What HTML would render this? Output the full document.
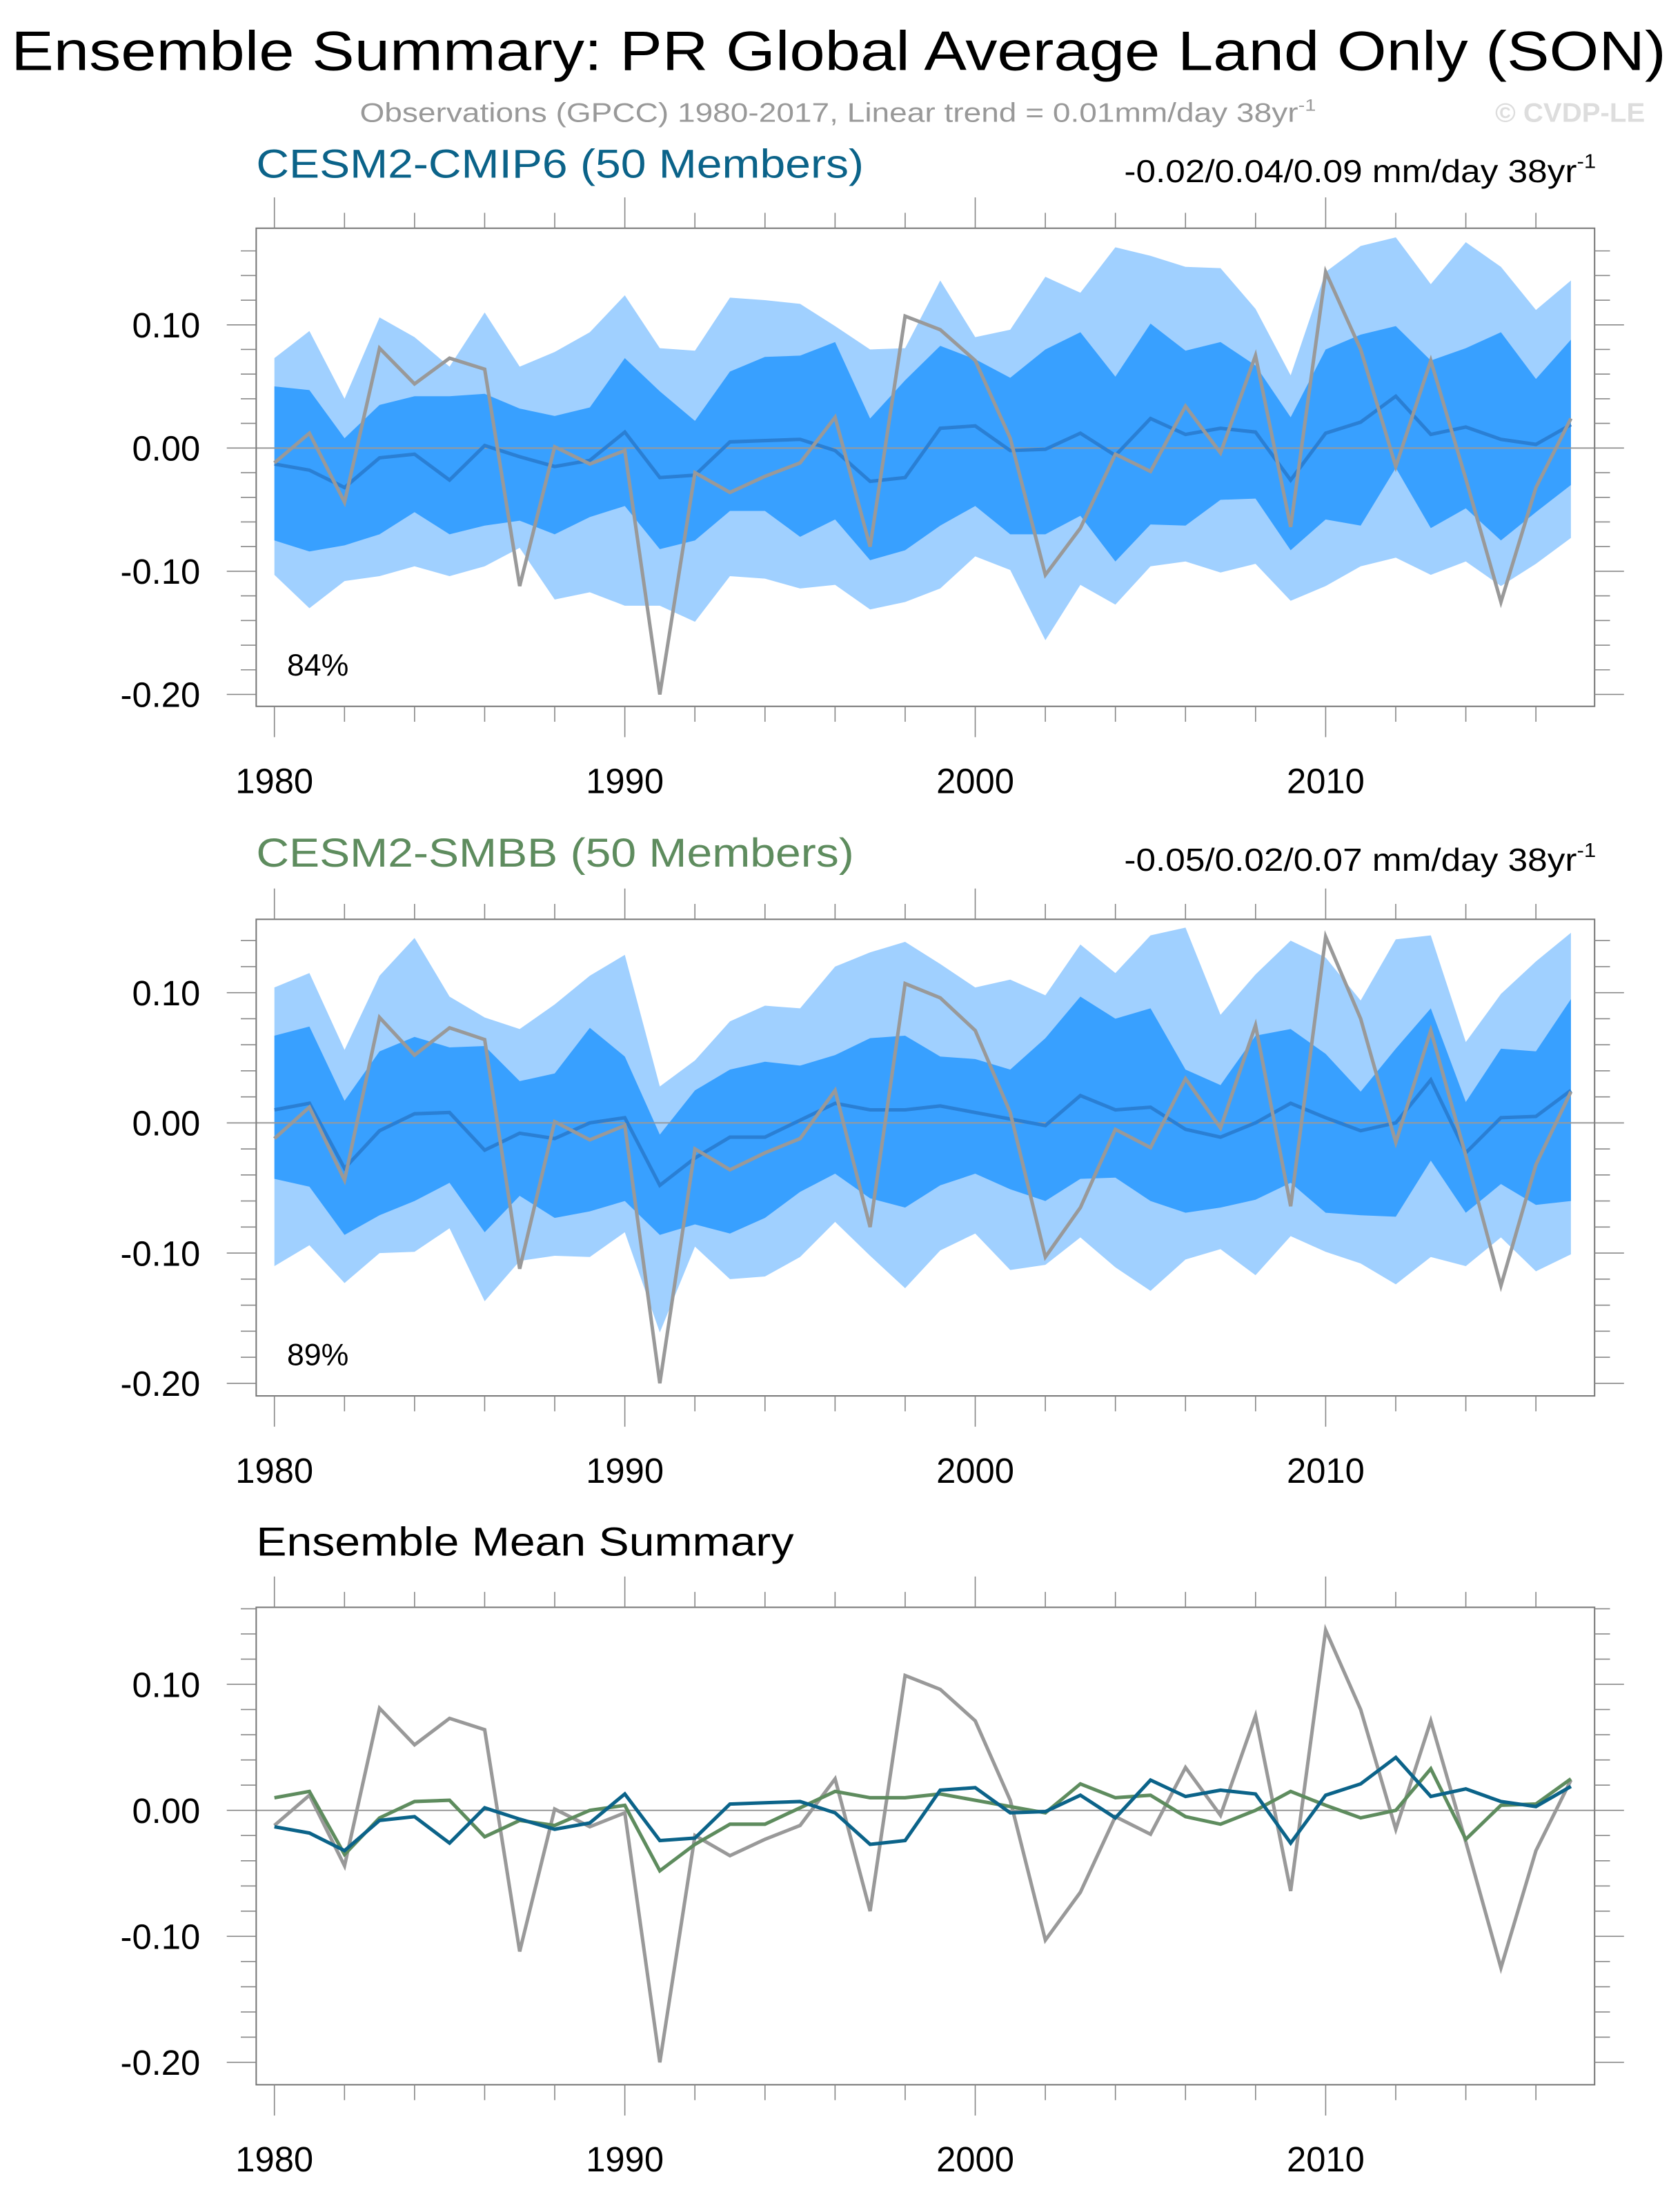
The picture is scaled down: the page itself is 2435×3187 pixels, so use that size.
<!DOCTYPE html>
<html><head><meta charset="utf-8"><style>html,body{margin:0;padding:0;background:#fff}svg{display:block}</style></head>
<body>
<svg id="chart" width="2435" height="3187" viewBox="0 0 1200 1570.6" xmlns="http://www.w3.org/2000/svg" font-family="'Liberation Sans', sans-serif">
<rect width="1200" height="1570.6" fill="#fff"/>
<text x="8" y="50" font-size="40" textLength="1182" lengthAdjust="spacingAndGlyphs">Ensemble Summary: PR Global Average Land Only (SON)</text>
<text x="257" y="87" font-size="19" fill="#999" textLength="683" lengthAdjust="spacingAndGlyphs">Observations (GPCC) 1980-2017, Linear trend = 0.01mm/day 38yr<tspan font-size="12" dy="-8">-1</tspan></text>
<text x="1068" y="87" font-size="19" font-weight="bold" fill="#ddd" textLength="107" lengthAdjust="spacingAndGlyphs">© CVDP-LE</text>
<g id="panels"></g>
</svg>
<script>
const years = [];
for (let y = 1980; y <= 2017; y++) years.push(y);
const obs = [-0.012,0.012,-0.044,0.081,0.052,0.073,0.064,-0.112,0.001,-0.013,-0.002,-0.200,-0.020,-0.036,-0.023,-0.012,0.025,-0.080,0.107,0.096,0.071,0.008,-0.103,-0.065,-0.005,-0.019,0.034,-0.004,0.075,-0.064,0.143,0.080,-0.015,0.071,-0.025,-0.125,-0.032,0.024];
const cmipMean = [-0.013,-0.018,-0.032,-0.008,-0.005,-0.026,0.002,-0.007,-0.015,-0.010,0.013,-0.024,-0.022,0.005,0.006,0.007,-0.002,-0.027,-0.024,0.016,0.018,-0.002,-0.001,0.012,-0.006,0.024,0.011,0.016,0.013,-0.026,0.012,0.021,0.042,0.011,0.017,0.007,0.003,0.019];
const smbbMean = [0.010,0.015,-0.035,-0.006,0.007,0.008,-0.021,-0.008,-0.012,0.000,0.004,-0.048,-0.027,-0.011,-0.011,0.002,0.015,0.010,0.010,0.013,0.008,0.003,-0.002,0.021,0.010,0.012,-0.005,-0.011,0.000,0.015,0.004,-0.006,0.000,0.033,-0.023,0.004,0.005,0.025];
const cmipOuterTop = [0.073,0.095,0.040,0.106,0.090,0.066,0.110,0.066,0.078,0.094,0.124,0.081,0.079,0.122,0.120,0.117,0.099,0.080,0.081,0.136,0.090,0.096,0.139,0.126,0.163,0.156,0.147,0.146,0.113,0.059,0.143,0.164,0.171,0.133,0.167,0.147,0.112,0.136];
const cmipInnerTop = [0.050,0.047,0.008,0.035,0.042,0.042,0.044,0.032,0.026,0.033,0.073,0.046,0.022,0.062,0.074,0.075,0.086,0.024,0.055,0.083,0.072,0.057,0.080,0.094,0.058,0.101,0.079,0.086,0.067,0.025,0.080,0.092,0.099,0.071,0.081,0.094,0.056,0.088];
const cmipInnerBot = [-0.075,-0.084,-0.079,-0.070,-0.052,-0.070,-0.063,-0.059,-0.070,-0.056,-0.047,-0.082,-0.075,-0.051,-0.051,-0.072,-0.058,-0.091,-0.083,-0.063,-0.047,-0.070,-0.070,-0.055,-0.092,-0.062,-0.063,-0.042,-0.041,-0.083,-0.058,-0.063,-0.016,-0.065,-0.049,-0.075,-0.052,-0.030];
const cmipOuterBot = [-0.103,-0.130,-0.108,-0.104,-0.096,-0.104,-0.096,-0.081,-0.123,-0.117,-0.128,-0.128,-0.141,-0.104,-0.106,-0.114,-0.111,-0.131,-0.125,-0.114,-0.088,-0.099,-0.156,-0.111,-0.127,-0.096,-0.092,-0.101,-0.094,-0.124,-0.112,-0.096,-0.089,-0.103,-0.092,-0.112,-0.094,-0.073];
const smbbOuterTop = [0.104,0.115,0.056,0.113,0.142,0.097,0.081,0.072,0.091,0.113,0.129,0.028,0.048,0.078,0.090,0.088,0.120,0.131,0.139,0.122,0.104,0.110,0.098,0.137,0.115,0.144,0.150,0.083,0.114,0.140,0.127,0.094,0.141,0.144,0.062,0.099,0.124,0.146];
const smbbInnerTop = [0.067,0.074,0.017,0.055,0.066,0.058,0.059,0.032,0.038,0.073,0.051,-0.009,0.025,0.041,0.047,0.044,0.052,0.065,0.067,0.051,0.049,0.041,0.065,0.097,0.080,0.088,0.041,0.029,0.067,0.072,0.053,0.024,0.057,0.088,0.016,0.057,0.055,0.095];
const smbbInnerBot = [-0.043,-0.049,-0.086,-0.071,-0.060,-0.046,-0.084,-0.056,-0.073,-0.068,-0.060,-0.086,-0.078,-0.085,-0.073,-0.053,-0.039,-0.058,-0.065,-0.048,-0.039,-0.051,-0.060,-0.043,-0.042,-0.060,-0.069,-0.065,-0.059,-0.046,-0.069,-0.071,-0.072,-0.029,-0.069,-0.047,-0.063,-0.060];
const smbbOuterBot = [-0.110,-0.094,-0.123,-0.100,-0.099,-0.081,-0.137,-0.106,-0.102,-0.103,-0.084,-0.161,-0.095,-0.120,-0.118,-0.103,-0.076,-0.102,-0.127,-0.098,-0.085,-0.113,-0.109,-0.088,-0.111,-0.129,-0.105,-0.097,-0.117,-0.087,-0.099,-0.108,-0.124,-0.103,-0.110,-0.088,-0.114,-0.101];
const yTickVals = [0.10, 0.00, -0.10, -0.20];
const yTickLabels = ["0.10", "0.00", "-0.10", "-0.20"];
const xTickYears = [1980, 1990, 2000, 2010];
const pctLabels = ["84%", "89%"];

const NS = "http://www.w3.org/2000/svg";
const root = document.getElementById('panels');
const X0 = 183, X1 = 1139;
function xs(yr){ return 196 + (yr - 1980) * 25.03; }
function mk(tag, attrs, parent){
  const e = document.createElementNS(NS, tag);
  for (const k in attrs) e.setAttribute(k, attrs[k]);
  (parent || root).appendChild(e);
  return e;
}
function drawPanel(p){
  const g = mk('g', {});
  
  
  const ys = v => p.zero - v * p.scale;
  const clipId = 'clip-' + p.name;
  const cp = mk('clipPath', {id: clipId}, g);
  mk('rect', {x: X0, y: p.top, width: X1 - X0, height: p.bot - p.top}, cp);
  const inner = mk('g', {'clip-path': 'url(#' + clipId + ')'}, g);
  function band(top, bot, fill, nm){
    let pts = [];
    years.forEach((y,i)=>pts.push(xs(y).toFixed(1)+','+ys(top[i]).toFixed(1)));
    for (let i = years.length-1; i >= 0; i--) pts.push(xs(years[i]).toFixed(1)+','+ys(bot[i]).toFixed(1));
    const e = mk('polygon', {points: pts.join(' '), fill: fill}, inner);
    
    
  }
  function line(vals, color, w, nm){
    const pts = years.map((y,i)=>xs(y).toFixed(1)+','+ys(vals[i]).toFixed(1)).join(' ');
    const e = mk('polyline', {points: pts, fill: 'none', stroke: color, 'stroke-width': w, 'stroke-linejoin': 'miter'}, inner);
    
    
  }
  if (p.bands){
    band(p.bands[0], p.bands[3], '#a0d0ff', 'outer-spread-band');
    band(p.bands[1], p.bands[2], '#38a0ff', 'inner-spread-band');
  }
  const zl = mk('line', {x1: X0, x2: X1, y1: ys(0), y2: ys(0), stroke: '#999', 'stroke-width': 1}, inner);
  
  
  p.lines.forEach(l => line(l.vals, l.color, l.w, l.name));
  const frame = mk('rect', {x: X0, y: p.top, width: X1 - X0, height: p.bot - p.top, fill: 'none', stroke: '#777', 'stroke-width': 1}, g);
  
  
  for (let k = -10; k <= 9; k++){
    const v = k * 0.02, y = ys(v);
    if (y < p.top - 0.5 || y > p.bot + 0.5) continue;
    const major = (k % 5 === 0);
    const L = major ? 21 : 11;
    mk('line', {x1: X0 - L, x2: X0, y1: y, y2: y, stroke: '#888', 'stroke-width': 0.8}, g);
    mk('line', {x1: X1, x2: X1 + L, y1: y, y2: y, stroke: '#888', 'stroke-width': 0.8}, g);
  }
  yTickVals.forEach((v,i)=>{
    const t = mk('text', {x: 143, y: ys(v) + 9, 'font-size': 25, 'text-anchor': 'end'}, g);
    t.textContent = yTickLabels[i];
    
    
  });
  for (let yr = 1980; yr <= 2016; yr += 2){
    const major = (yr % 10 === 0);
    const L = major ? 22 : 11, x = xs(yr);
    mk('line', {x1: x, x2: x, y1: p.bot, y2: p.bot + L, stroke: '#888', 'stroke-width': 0.8}, g);
    mk('line', {x1: x, x2: x, y1: p.top - L, y2: p.top, stroke: '#888', 'stroke-width': 0.8}, g);
  }
  xTickYears.forEach(yr=>{
    const t = mk('text', {x: xs(yr), y: p.bot + 62, 'font-size': 25, 'text-anchor': 'middle'}, g);
    t.textContent = String(yr);
    
    
  });
  const tt = mk('text', {x: 183, y: p.titleY, 'font-size': 29, fill: p.titleColor, textLength: p.titleLen, lengthAdjust: 'spacingAndGlyphs'}, g);
  tt.textContent = p.title;
  
  
  if (p.trend){
    const tr = mk('text', {x: 803, y: p.titleY + 3, 'font-size': 23, textLength: 337, lengthAdjust: 'spacingAndGlyphs'}, g);
    
    
    tr.appendChild(document.createTextNode(p.trend + ' mm/day 38yr'));
    const sp = mk('tspan', {'font-size': 14, dy: -10}, tr);
    sp.textContent = '-1';
  }
  if (p.pct){
    const pt = mk('text', {x: 205, y: p.bot - 22, 'font-size': 22}, g);
    pt.textContent = p.pct;
    
    
  }
}
drawPanel({name: 'cmip6-panel', top: 163, bot: 504.5, zero: 320, scale: 880,
  bands: [cmipOuterTop, cmipInnerTop, cmipInnerBot, cmipOuterBot],
  lines: [{vals: cmipMean, color: '#2a7fd4', w: 2.5, name: 'cmip6-ensemble-mean'}, {vals: obs, color: '#999', w: 2.5, name: 'observations-line'}],
  title: 'CESM2-CMIP6 (50 Members)', titleColor: '#0b6389', titleLen: 434, titleY: 127, trend: '-0.02/0.04/0.09', pct: pctLabels[0]});
drawPanel({name: 'smbb-panel', top: 656.6, bot: 997, zero: 802, scale: 930,
  bands: [smbbOuterTop, smbbInnerTop, smbbInnerBot, smbbOuterBot],
  lines: [{vals: smbbMean, color: '#2a7fd4', w: 2.5, name: 'smbb-ensemble-mean'}, {vals: obs, color: '#999', w: 2.5, name: 'observations-line'}],
  title: 'CESM2-SMBB (50 Members)', titleColor: '#5e8c5e', titleLen: 427, titleY: 619, trend: '-0.05/0.02/0.07', pct: pctLabels[1]});
drawPanel({name: 'ensemble-mean-panel', top: 1148, bot: 1489, zero: 1293, scale: 900,
  bands: null,
  lines: [{vals: obs, color: '#999', w: 2.5, name: 'observations-line'}, {vals: smbbMean, color: '#5e8c5e', w: 2.5, name: 'smbb-mean-line'}, {vals: cmipMean, color: '#0b6389', w: 2.5, name: 'cmip6-mean-line'}],
  title: 'Ensemble Mean Summary', titleColor: '#000', titleLen: 384, titleY: 1111, trend: null, pct: null});
</script>
</body></html>
